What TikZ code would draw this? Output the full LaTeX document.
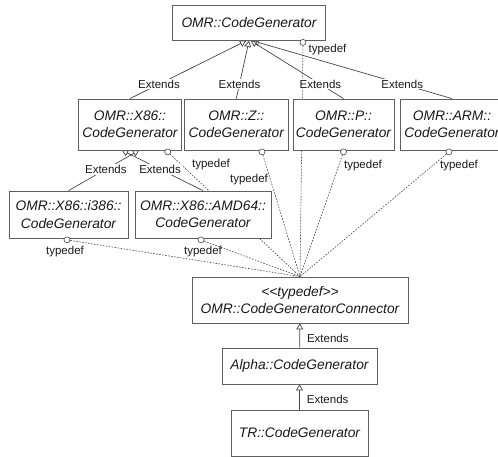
\documentclass[tikz,border=0pt]{standalone}
\usepackage{fontspec}
\setmainfont{Liberation Sans}
\usepackage{tikz}
\usetikzlibrary{arrows.meta,backgrounds}
\definecolor{boxgray}{RGB}{95,95,95}
\definecolor{linegray}{RGB}{70,70,70}
\definecolor{ink}{RGB}{25,25,25}

\begin{document}
\begin{tikzpicture}[x=1pt, y=-1pt,
  cls/.style={draw=boxgray, fill=white, line width=0.8pt, inner sep=0pt, align=center, text=ink, font=\fontsize{13.8}{17.5}\selectfont\itshape},
  ext/.style={draw=linegray, line width=0.7pt, -{Triangle[open, length=6pt, width=7pt]}},
  lbl/.style={fill=white, inner sep=1pt, text=ink, font=\fontsize{11.5}{13}\selectfont},
  lblr/.style={anchor=west, inner sep=0pt, xshift=7pt, text=ink, font=\fontsize{11.5}{13}\selectfont},
  tdot/.style={circle, draw=linegray, fill=white, line width=0.6pt, inner sep=0pt, minimum size=6pt},
  tdline/.style={draw=linegray, line width=0.6pt, dash pattern=on 1.6pt off 1.4pt},
  tdlbl/.style={text=ink, inner sep=0pt, font=\fontsize{11.5}{13}\selectfont}]
  \useasboundingbox (0,0) rectangle (498,457);
  \clip (0,0) rectangle (498,457);

  \node[cls, minimum width=153pt, minimum height=35pt] (omr) at (249,23) {OMR::CodeGenerator};

  \node[cls, minimum width=103pt, minimum height=51pt] (x86) at (130,124.5) {OMR::X86::\\CodeGenerator};
  \node[cls, minimum width=104pt, minimum height=51pt] (z)   at (236.3,124.5) {OMR::Z::\\CodeGenerator};
  \node[cls, minimum width=101pt, minimum height=51pt] (p)   at (343.5,124.5) {OMR::P::\\CodeGenerator};
  \node[cls, minimum width=104pt, minimum height=51pt] (arm) at (452,124.5) {OMR::ARM::\\CodeGenerator};

  \node[cls, minimum width=119pt, minimum height=47pt] (i386) at (68.5,214.5) {OMR::X86::i386::\\CodeGenerator};
  \node[cls, minimum width=136pt, minimum height=47pt] (amd)  at (203,214.5) {OMR::X86::AMD64::\\CodeGenerator};

  \node[cls, minimum width=216pt, minimum height=46pt] (conn)  at (300,300) {<{}<typedef>{}>\\OMR::CodeGeneratorConnector};
  \node[cls, minimum width=155pt, minimum height=36pt] (alpha) at (299.5,366) {Alpha::CodeGenerator};
  \node[cls, minimum width=137pt, minimum height=46pt] (tr)    at (299.5,433) {TR::CodeGenerator};

  \node[tdot] (omrtd)  at ([xshift=54pt,yshift=-1.5pt]omr.south) {};
  \node[tdot] (x86td)  at ([xshift=37.7pt,yshift=-1.5pt]x86.south) {};
  \node[tdot] (ztd)    at ([xshift=25.7pt,yshift=-1.5pt]z.south) {};
  \node[tdot] (ptd)    at ([yshift=-1.5pt]p.south) {};
  \node[tdot] (armtd)  at ([xshift=-3pt,yshift=-1.5pt]arm.south) {};
  \node[tdot] (i386td) at ([xshift=-1.5pt,yshift=-1.5pt]i386.south) {};
  \node[tdot] (amdtd)  at ([xshift=-2pt,yshift=-1.5pt]amd.south) {};

  \node[tdlbl] (omrtl)  at (327.5,50) {typedef};
  \node[tdlbl] (x86tl)  at (211,165) {typedef};
  \node[tdlbl] (ztl)    at (249,180) {typedef};
  \node[tdlbl] (ptl)    at (363,166) {typedef};
  \node[tdlbl] (armtl)  at (459,166) {typedef};
  \node[tdlbl] (i386tl) at (65,252) {typedef};
  \node[tdlbl] (amdtl)  at (203,252) {typedef};

  \begin{pgfonlayer}{background}
    \foreach \t in {omrtd,x86td,ztd,ptd,armtd,i386td,amdtd}
      \draw[tdline] (\t) -- (conn.north);

    \draw[ext] (x86.north) -- node[lbl, pos=0.25] {Extends} ([xshift=-3pt]omr.south);
    \draw[ext] (z.north)   -- node[lbl, pos=0.25] {Extends} (omr.south);
    \draw[ext] (p.north)   -- node[lbl, pos=0.25] {Extends} ([xshift=2pt]omr.south);
    \draw[ext] (arm.north) -- node[lbl, pos=0.25] {Extends} ([xshift=4pt]omr.south);

    \draw[ext] (i386.north) -- node[lbl, pos=0.53] {Extends} ([xshift=9pt]x86.south);
    \draw[ext] (amd.north)  -- node[lbl, pos=0.53] {Extends} ([xshift=-8pt]x86.south);

    \draw[ext] (alpha) -- node[lblr, pos=0.36] {Extends} (conn);
    \draw[ext] (tr)    -- node[lblr, pos=0.42] {Extends} (alpha);
  \end{pgfonlayer}
\end{tikzpicture}
\end{document}
